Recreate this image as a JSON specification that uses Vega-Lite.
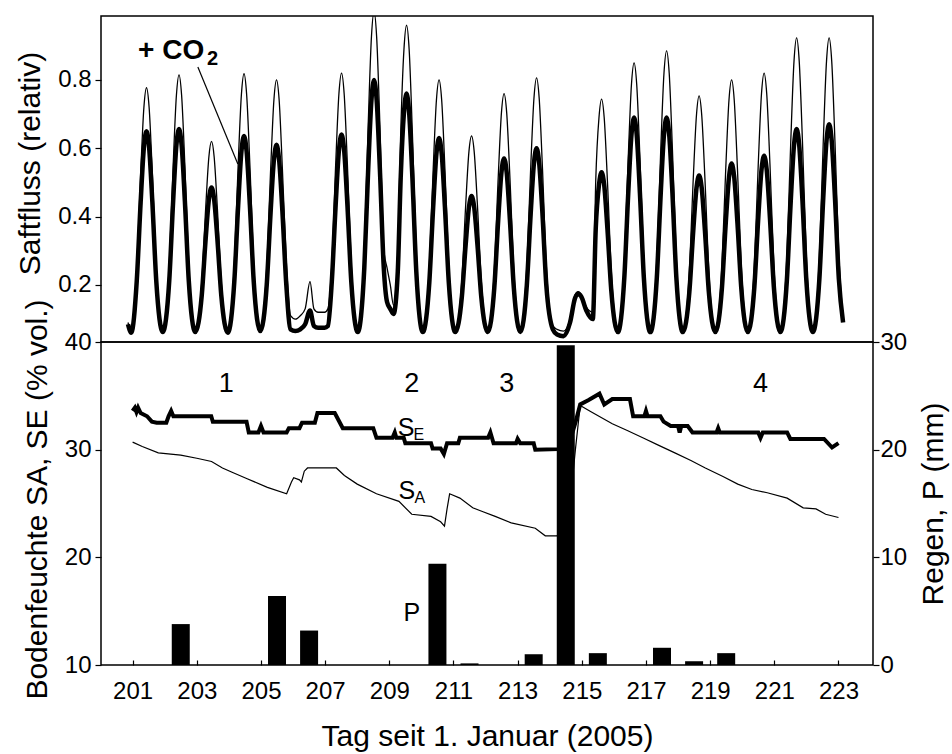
{
  "$schema": "https://vega.github.io/schema/vega-lite/v6.json",
  "padding": {"left": 14, "top": 15, "right": 0, "bottom": 0},
  "background": "white",
  "spacing": 0,
  "bounds": "flush",
  "config": {
    "font": "Liberation Sans",
    "view": {"stroke": "black", "strokeWidth": 1.5},
    "axis": {
      "domain": false, "grid": false,
      "labelFont": "Liberation Sans", "labelFontSize": 24, "labelColor": "black",
      "titleFont": "Liberation Sans", "titleFontSize": 30, "titleFontWeight": "normal", "titleColor": "black",
      "tickColor": "black", "tickSize": 6, "tickWidth": 1.2, "labelPadding": 4
    }
  },
  "datasets": {
    "sap": [
      {"t":201.0,"thin":0.09,"thick":0.085},{"t":201.1,"thin":0.065,"thick":0.06},
      {"t":201.27,"thin":0.247,"thick":0.212},{"t":201.39,"thin":0.525,"thick":0.442},{"t":201.49,"thin":0.72,"thick":0.603},{"t":201.57,"thin":0.777,"thick":0.65},{"t":201.65,"thin":0.72,"thick":0.603},{"t":201.75,"thin":0.525,"thick":0.442},{"t":201.87,"thin":0.247,"thick":0.212},
      {"t":202.07,"thin":0.07,"thick":0.062},{"t":202.27,"thin":0.257,"thick":0.213},{"t":202.39,"thin":0.55,"thick":0.446},{"t":202.49,"thin":0.755,"thick":0.609},{"t":202.57,"thin":0.815,"thick":0.656},{"t":202.65,"thin":0.755,"thick":0.609},{"t":202.75,"thin":0.55,"thick":0.446},{"t":202.87,"thin":0.257,"thick":0.213},
      {"t":203.07,"thin":0.07,"thick":0.062},{"t":203.27,"thin":0.208,"thick":0.17},{"t":203.39,"thin":0.424,"thick":0.335},{"t":203.49,"thin":0.576,"thick":0.451},{"t":203.57,"thin":0.62,"thick":0.485},{"t":203.65,"thin":0.576,"thick":0.451},{"t":203.75,"thin":0.424,"thick":0.335},{"t":203.87,"thin":0.208,"thick":0.17},
      {"t":204.07,"thin":0.07,"thick":0.06},{"t":204.27,"thin":0.258,"thick":0.208},{"t":204.39,"thin":0.552,"thick":0.433},{"t":204.49,"thin":0.758,"thick":0.59},{"t":204.57,"thin":0.818,"thick":0.636},{"t":204.65,"thin":0.758,"thick":0.59},{"t":204.75,"thin":0.552,"thick":0.433},{"t":204.87,"thin":0.258,"thick":0.208},
      {"t":205.07,"thin":0.075,"thick":0.065},{"t":205.27,"thin":0.253,"thick":0.202},{"t":205.39,"thin":0.54,"thick":0.416},{"t":205.49,"thin":0.742,"thick":0.566},{"t":205.57,"thin":0.8,"thick":0.61},{"t":205.65,"thin":0.742,"thick":0.566},{"t":205.75,"thin":0.54,"thick":0.416},{"t":205.87,"thin":0.27,"thick":0.202},
      {"t":206.0,"thin":0.11,"thick":0.07},{"t":206.15,"thin":0.1,"thick":0.065},{"t":206.3,"thin":0.11,"thick":0.07},{"t":206.45,"thin":0.13,"thick":0.085},{"t":206.6,"thin":0.21,"thick":0.125},{"t":206.72,"thin":0.13,"thick":0.08},{"t":206.85,"thin":0.12,"thick":0.075},{"t":207.05,"thin":0.12,"thick":0.075},{"t":207.15,"thin":0.13,"thick":0.08},
      {"t":207.27,"thin":0.258,"thick":0.209},{"t":207.39,"thin":0.553,"thick":0.435},{"t":207.49,"thin":0.76,"thick":0.594},{"t":207.57,"thin":0.82,"thick":0.64},{"t":207.65,"thin":0.76,"thick":0.594},{"t":207.75,"thin":0.553,"thick":0.435},{"t":207.87,"thin":0.258,"thick":0.209},
      {"t":208.07,"thin":0.07,"thick":0.062},{"t":208.27,"thin":0.303,"thick":0.249},{"t":208.39,"thin":0.669,"thick":0.538},{"t":208.49,"thin":0.926,"thick":0.741},{"t":208.57,"thin":1.0,"thick":0.8},{"t":208.65,"thin":0.926,"thick":0.741},{"t":208.75,"thin":0.669,"thick":0.538},{"t":208.87,"thin":0.303,"thick":0.249},
      {"t":208.97,"thin":0.25,"thick":0.15},{"t":209.07,"thin":0.2,"thick":0.13},{"t":209.17,"thin":0.14,"thick":0.115},{"t":209.3,"thin":0.293,"thick":0.239},{"t":209.39,"thin":0.643,"thick":0.513},{"t":209.49,"thin":0.889,"thick":0.704},{"t":209.57,"thin":0.96,"thick":0.76},{"t":209.65,"thin":0.889,"thick":0.704},{"t":209.75,"thin":0.643,"thick":0.513},{"t":209.87,"thin":0.293,"thick":0.239},
      {"t":210.07,"thin":0.07,"thick":0.062},{"t":210.27,"thin":0.253,"thick":0.207},{"t":210.39,"thin":0.54,"thick":0.429},{"t":210.49,"thin":0.742,"thick":0.585},{"t":210.57,"thin":0.8,"thick":0.63},{"t":210.65,"thin":0.742,"thick":0.585},{"t":210.75,"thin":0.54,"thick":0.429},{"t":210.87,"thin":0.253,"thick":0.207},
      {"t":211.07,"thin":0.07,"thick":0.062},{"t":211.27,"thin":0.212,"thick":0.164},{"t":211.39,"thin":0.435,"thick":0.319},{"t":211.49,"thin":0.591,"thick":0.428},{"t":211.57,"thin":0.636,"thick":0.46},{"t":211.65,"thin":0.591,"thick":0.428},{"t":211.75,"thin":0.435,"thick":0.319},{"t":211.87,"thin":0.212,"thick":0.164},
      {"t":212.07,"thin":0.07,"thick":0.062},{"t":212.27,"thin":0.243,"thick":0.192},{"t":212.39,"thin":0.514,"thick":0.39},{"t":212.49,"thin":0.705,"thick":0.53},{"t":212.57,"thin":0.76,"thick":0.57},{"t":212.65,"thin":0.705,"thick":0.53},{"t":212.75,"thin":0.514,"thick":0.39},{"t":212.87,"thin":0.243,"thick":0.192},
      {"t":213.07,"thin":0.07,"thick":0.062},{"t":213.27,"thin":0.255,"thick":0.199},{"t":213.39,"thin":0.544,"thick":0.41},{"t":213.49,"thin":0.747,"thick":0.557},{"t":213.57,"thin":0.806,"thick":0.6},{"t":213.65,"thin":0.747,"thick":0.557},{"t":213.75,"thin":0.544,"thick":0.41},{"t":213.87,"thin":0.255,"thick":0.199},
      {"t":214.07,"thin":0.08,"thick":0.07},{"t":214.2,"thin":0.07,"thick":0.055},{"t":214.4,"thin":0.065,"thick":0.05},{"t":214.6,"thin":0.1,"thick":0.09},{"t":214.75,"thin":0.17,"thick":0.16},{"t":214.85,"thin":0.18,"thick":0.175},{"t":214.95,"thin":0.17,"thick":0.165},{"t":215.1,"thin":0.135,"thick":0.125},{"t":215.3,"thin":0.12,"thick":0.1},
      {"t":215.39,"thin":0.504,"thick":0.364},{"t":215.49,"thin":0.69,"thick":0.493},{"t":215.57,"thin":0.744,"thick":0.53},{"t":215.65,"thin":0.69,"thick":0.493},{"t":215.75,"thin":0.504,"thick":0.364},{"t":215.87,"thin":0.239,"thick":0.182},
      {"t":216.07,"thin":0.07,"thick":0.062},{"t":216.27,"thin":0.266,"thick":0.222},{"t":216.39,"thin":0.572,"thick":0.468},{"t":216.49,"thin":0.788,"thick":0.64},{"t":216.57,"thin":0.85,"thick":0.69},{"t":216.65,"thin":0.788,"thick":0.64},{"t":216.75,"thin":0.572,"thick":0.468},{"t":216.87,"thin":0.266,"thick":0.222},
      {"t":217.07,"thin":0.07,"thick":0.062},{"t":217.27,"thin":0.275,"thick":0.222},{"t":217.39,"thin":0.595,"thick":0.468},{"t":217.49,"thin":0.82,"thick":0.64},{"t":217.57,"thin":0.885,"thick":0.69},{"t":217.65,"thin":0.82,"thick":0.64},{"t":217.75,"thin":0.595,"thick":0.468},{"t":217.87,"thin":0.275,"thick":0.222},
      {"t":218.07,"thin":0.07,"thick":0.062},{"t":218.27,"thin":0.241,"thick":0.179},{"t":218.39,"thin":0.51,"thick":0.358},{"t":218.49,"thin":0.698,"thick":0.484},{"t":218.57,"thin":0.753,"thick":0.52},{"t":218.65,"thin":0.698,"thick":0.484},{"t":218.75,"thin":0.51,"thick":0.358},{"t":218.87,"thin":0.241,"thick":0.179},
      {"t":219.07,"thin":0.07,"thick":0.062},{"t":219.27,"thin":0.253,"thick":0.188},{"t":219.39,"thin":0.54,"thick":0.381},{"t":219.49,"thin":0.742,"thick":0.516},{"t":219.57,"thin":0.8,"thick":0.555},{"t":219.65,"thin":0.742,"thick":0.516},{"t":219.75,"thin":0.54,"thick":0.381},{"t":219.87,"thin":0.253,"thick":0.188},
      {"t":220.07,"thin":0.07,"thick":0.062},{"t":220.27,"thin":0.258,"thick":0.194},{"t":220.39,"thin":0.553,"thick":0.395},{"t":220.49,"thin":0.76,"thick":0.537},{"t":220.57,"thin":0.82,"thick":0.578},{"t":220.65,"thin":0.76,"thick":0.537},{"t":220.75,"thin":0.553,"thick":0.395},{"t":220.87,"thin":0.258,"thick":0.194},
      {"t":221.07,"thin":0.07,"thick":0.062},{"t":221.27,"thin":0.284,"thick":0.213},{"t":221.39,"thin":0.619,"thick":0.446},{"t":221.49,"thin":0.855,"thick":0.609},{"t":221.57,"thin":0.923,"thick":0.656},{"t":221.65,"thin":0.855,"thick":0.609},{"t":221.75,"thin":0.619,"thick":0.446},{"t":221.87,"thin":0.284,"thick":0.213},
      {"t":222.07,"thin":0.07,"thick":0.062},{"t":222.27,"thin":0.284,"thick":0.217},{"t":222.39,"thin":0.619,"thick":0.455},{"t":222.49,"thin":0.855,"thick":0.622},{"t":222.57,"thin":0.923,"thick":0.67},{"t":222.65,"thin":0.855,"thick":0.622},{"t":222.75,"thin":0.619,"thick":0.455},{"t":222.87,"thin":0.284,"thick":0.217},
      {"t":223.0,"thin":0.1,"thick":0.09}
    ],
    "se": [
      {"t":201.0,"v":33.6},{"t":201.07,"v":33.9},{"t":201.12,"v":33.5},{"t":201.17,"v":33.9},{"t":201.25,"v":33.4},{"t":201.45,"v":33.1},{"t":201.6,"v":32.6},{"t":201.75,"v":32.5},{"t":202.05,"v":32.5},{"t":202.12,"v":33.1},{"t":202.2,"v":33.6},{"t":202.27,"v":33.1},{"t":203.45,"v":33.1},{"t":203.5,"v":32.6},{"t":204.55,"v":32.6},{"t":204.62,"v":31.6},{"t":204.92,"v":31.6},{"t":205.0,"v":32.2},{"t":205.08,"v":31.6},{"t":205.8,"v":31.6},{"t":205.87,"v":32.0},{"t":206.2,"v":32.0},{"t":206.28,"v":32.5},{"t":206.68,"v":32.5},{"t":206.76,"v":33.4},{"t":207.3,"v":33.4},{"t":207.55,"v":32.0},{"t":208.5,"v":32.0},{"t":208.6,"v":31.1},{"t":209.1,"v":31.1},{"t":209.17,"v":31.6},{"t":209.22,"v":31.1},{"t":209.45,"v":31.1},{"t":209.5,"v":30.6},{"t":210.3,"v":30.6},{"t":210.35,"v":30.1},{"t":210.6,"v":30.1},{"t":210.7,"v":29.6},{"t":210.8,"v":30.6},{"t":211.15,"v":30.6},{"t":211.2,"v":31.1},{"t":212.08,"v":31.1},{"t":212.15,"v":31.6},{"t":212.25,"v":30.6},{"t":212.95,"v":30.6},{"t":213.0,"v":31.0},{"t":213.08,"v":30.6},{"t":213.5,"v":30.6},{"t":213.55,"v":30.0},{"t":214.25,"v":30.05},{"t":214.6,"v":30.5},{"t":214.8,"v":32.5},{"t":214.95,"v":34.2},{"t":215.2,"v":34.6},{"t":215.55,"v":35.2},{"t":215.7,"v":34.2},{"t":215.95,"v":34.7},{"t":216.5,"v":34.7},{"t":216.6,"v":33.1},{"t":216.95,"v":33.1},{"t":217.0,"v":33.6},{"t":217.05,"v":33.1},{"t":217.45,"v":33.1},{"t":217.55,"v":32.6},{"t":217.77,"v":32.2},{"t":218.0,"v":32.2},{"t":218.05,"v":31.6},{"t":218.1,"v":32.2},{"t":218.3,"v":32.2},{"t":218.45,"v":31.6},{"t":219.2,"v":31.6},{"t":219.25,"v":32.0},{"t":219.3,"v":31.6},{"t":220.5,"v":31.6},{"t":220.57,"v":31.1},{"t":220.64,"v":31.6},{"t":221.4,"v":31.6},{"t":221.5,"v":31.0},{"t":222.55,"v":31.0},{"t":222.8,"v":30.2},{"t":223.0,"v":30.6}
    ],
    "sa": [
      {"t":201.0,"v":30.7},{"t":201.3,"v":30.3},{"t":201.8,"v":29.7},{"t":202.5,"v":29.5},{"t":203.0,"v":29.2},{"t":203.46,"v":28.9},{"t":203.8,"v":28.3},{"t":204.1,"v":27.9},{"t":204.57,"v":27.3},{"t":205.2,"v":26.5},{"t":205.8,"v":25.9},{"t":205.95,"v":27.0},{"t":206.02,"v":27.4},{"t":206.2,"v":27.2},{"t":206.26,"v":27.0},{"t":206.35,"v":28.0},{"t":206.45,"v":28.3},{"t":207.35,"v":28.3},{"t":207.6,"v":27.6},{"t":208.0,"v":26.8},{"t":208.6,"v":25.9},{"t":209.3,"v":25.2},{"t":209.7,"v":24.0},{"t":210.3,"v":23.8},{"t":210.6,"v":23.3},{"t":210.72,"v":22.9},{"t":210.8,"v":24.5},{"t":210.88,"v":25.9},{"t":211.2,"v":25.5},{"t":211.6,"v":24.6},{"t":211.86,"v":24.3},{"t":212.3,"v":23.8},{"t":212.8,"v":23.2},{"t":213.55,"v":22.7},{"t":213.86,"v":22.0},{"t":214.23,"v":22.0},{"t":214.6,"v":24.0},{"t":214.8,"v":30.0},{"t":214.95,"v":34.1},{"t":215.3,"v":33.5},{"t":215.95,"v":32.4},{"t":216.4,"v":31.8},{"t":216.9,"v":31.1},{"t":217.4,"v":30.4},{"t":217.9,"v":29.7},{"t":218.4,"v":29.0},{"t":218.85,"v":28.3},{"t":219.4,"v":27.5},{"t":219.86,"v":26.8},{"t":220.3,"v":26.3},{"t":220.78,"v":26.0},{"t":221.4,"v":25.5},{"t":221.9,"v":24.6},{"t":222.3,"v":24.5},{"t":222.6,"v":24.0},{"t":223.0,"v":23.7}
    ],
    "rain": [
      {"day":202.5,"P":3.8},{"day":205.5,"P":6.4},{"day":206.5,"P":3.2},{"day":210.5,"P":9.4},{"day":211.5,"P":0.15},{"day":213.5,"P":1.0},{"day":214.5,"P":29.7},{"day":215.5,"P":1.1},{"day":217.5,"P":1.6},{"day":218.5,"P":0.35},{"day":219.5,"P":1.1}
    ],
    "biglabels": [
      {"t":203.92,"v":36.1,"label":"1"},{"t":209.7,"v":36.1,"label":"2"},{"t":212.66,"v":36.1,"label":"3"},{"t":220.57,"v":36.1,"label":"4"}
    ],
    "letters": [
      {"t":209.7,"v":14.8,"label":"P"},{"t":209.52,"v":32.0,"label":"S"},{"t":209.55,"v":26.2,"label":"S"}
    ],
    "subs": [
      {"t":209.92,"v":31.4,"label":"E"},{"t":209.95,"v":25.5,"label":"A"}
    ]
  },
  "vconcat": [
    {
      "width": 772,
      "height": 326,
      "layer": [
        {
          "data": {"name": "sap"},
          "mark": {"type": "line", "interpolate": "monotone", "strokeWidth": 4.5, "color": "black", "clip": true},
          "encoding": {
            "x": {"field": "t", "type": "quantitative", "scale": {"domain": [200.17, 223.92], "nice": false, "zero": false}, "axis": null},
            "y": {"field": "thick", "type": "quantitative", "scale": {"domain": [0.033, 0.987], "nice": false, "zero": false}, "axis": {"values": [0.2, 0.4, 0.6, 0.8], "format": ".1f", "title": "Saftfluss (relativ)", "titlePadding": 12, "titleY": 147}}
          }
        },
        {
          "data": {"name": "sap"},
          "mark": {"type": "line", "interpolate": "monotone", "strokeWidth": 1.3, "color": "black", "clip": true},
          "encoding": {
            "x": {"field": "t", "type": "quantitative", "axis": null},
            "y": {"field": "thin", "type": "quantitative", "axis": {"values": [0.2, 0.4, 0.6, 0.8], "format": ".1f", "title": "Saftfluss (relativ)", "titlePadding": 12, "titleY": 147}}
          }
        },
        {
          "data": {"values": [{"x1": 203.15, "y1": 0.838, "x2": 204.38, "y2": 0.554}]},
          "mark": {"type": "rule", "strokeWidth": 1.2, "color": "black"},
          "encoding": {
            "x": {"field": "x1", "type": "quantitative", "axis": null},
            "y": {"field": "y1", "type": "quantitative", "axis": {"values": [0.2, 0.4, 0.6, 0.8], "format": ".1f", "title": "Saftfluss (relativ)", "titlePadding": 12, "titleY": 147}},
            "x2": {"field": "x2"},
            "y2": {"field": "y2"}
          }
        },
        {
          "data": {"values": [{"t": 201.31, "v": 0.885, "label": "+ CO"}]},
          "mark": {"type": "text", "fontSize": 28, "fontWeight": "bold", "align": "left", "baseline": "middle", "color": "black"},
          "encoding": {
            "x": {"field": "t", "type": "quantitative", "axis": null},
            "y": {"field": "v", "type": "quantitative", "axis": {"values": [0.2, 0.4, 0.6, 0.8], "format": ".1f", "title": "Saftfluss (relativ)", "titlePadding": 12, "titleY": 147}},
            "text": {"field": "label"}
          }
        },
        {
          "data": {"values": [{"t": 203.6, "v": 0.86, "label": "2"}]},
          "mark": {"type": "text", "fontSize": 20, "fontWeight": "bold", "align": "center", "baseline": "middle", "color": "black"},
          "encoding": {
            "x": {"field": "t", "type": "quantitative", "axis": null},
            "y": {"field": "v", "type": "quantitative", "axis": {"values": [0.2, 0.4, 0.6, 0.8], "format": ".1f", "title": "Saftfluss (relativ)", "titlePadding": 12, "titleY": 147}},
            "text": {"field": "label"}
          }
        }
      ]
    },
    {
      "width": 772,
      "height": 323,
      "layer": [
        {
          "layer": [
            {
              "data": {"name": "sa"},
              "mark": {"type": "line", "strokeWidth": 1.2, "color": "black", "clip": true},
              "encoding": {
                "x": {"field": "t", "type": "quantitative", "scale": {"domain": [200.17, 223.92], "nice": false, "zero": false},
                      "axis": {"values": [201,202,203,204,205,206,207,208,209,210,211,212,213,214,215,216,217,218,219,220,221,222,223], "format": "d", "labelExpr": "datum.value % 2 == 1 ? datum.label : ''", "tickSize": -5, "labelPadding": 19, "title": "Tag seit 1. Januar (2005)", "titlePadding": 18}},
                "y": {"field": "v", "type": "quantitative", "scale": {"domain": [10, 40], "nice": false, "zero": false}, "axis": {"values": [10, 20, 30, 40], "title": "Bodenfeuchte SA, SE (% vol.)", "titlePadding": 12, "titleY": 157}}
              }
            },
            {
              "data": {"name": "se"},
              "mark": {"type": "line", "strokeWidth": 4, "color": "black", "clip": true},
              "encoding": {
                "x": {"field": "t", "type": "quantitative", "axis": {"values": [201,202,203,204,205,206,207,208,209,210,211,212,213,214,215,216,217,218,219,220,221,222,223], "format": "d", "labelExpr": "datum.value % 2 == 1 ? datum.label : ''", "tickSize": -5, "labelPadding": 19, "title": "Tag seit 1. Januar (2005)", "titlePadding": 18}},
                "y": {"field": "v", "type": "quantitative", "axis": {"values": [10, 20, 30, 40], "title": "Bodenfeuchte SA, SE (% vol.)", "titlePadding": 12, "titleY": 157}}
              }
            },
            {
              "data": {"name": "biglabels"},
              "mark": {"type": "text", "fontSize": 27, "align": "center", "baseline": "middle", "color": "black"},
              "encoding": {
                "x": {"field": "t", "type": "quantitative"},
                "y": {"field": "v", "type": "quantitative"},
                "text": {"field": "label"}
              }
            },
            {
              "data": {"name": "letters"},
              "mark": {"type": "text", "fontSize": 25, "align": "center", "baseline": "middle", "color": "black"},
              "encoding": {
                "x": {"field": "t", "type": "quantitative"},
                "y": {"field": "v", "type": "quantitative"},
                "text": {"field": "label"}
              }
            },
            {
              "data": {"name": "subs"},
              "mark": {"type": "text", "fontSize": 16, "align": "center", "baseline": "middle", "color": "black"},
              "encoding": {
                "x": {"field": "t", "type": "quantitative"},
                "y": {"field": "v", "type": "quantitative"},
                "text": {"field": "label"}
              }
            }
          ]
        },
        {
          "data": {"name": "rain"},
          "mark": {"type": "bar", "size": 18, "color": "black", "clip": true},
          "encoding": {
            "x": {"field": "day", "type": "quantitative", "axis": {"values": [201,202,203,204,205,206,207,208,209,210,211,212,213,214,215,216,217,218,219,220,221,222,223], "format": "d", "labelExpr": "datum.value % 2 == 1 ? datum.label : ''", "tickSize": -5, "labelPadding": 19, "title": "Tag seit 1. Januar (2005)", "titlePadding": 18}},
            "y": {"field": "P", "type": "quantitative", "scale": {"domain": [0, 30], "nice": false}, "axis": {"orient": "right", "values": [0, 10, 20, 30], "title": "Regen, P (mm)", "titleAngle": 270, "titleBaseline": "top", "labelPadding": 1, "titlePadding": 12}}
          }
        }
      ],
      "resolve": {"scale": {"y": "independent"}}
    }
  ]
}
